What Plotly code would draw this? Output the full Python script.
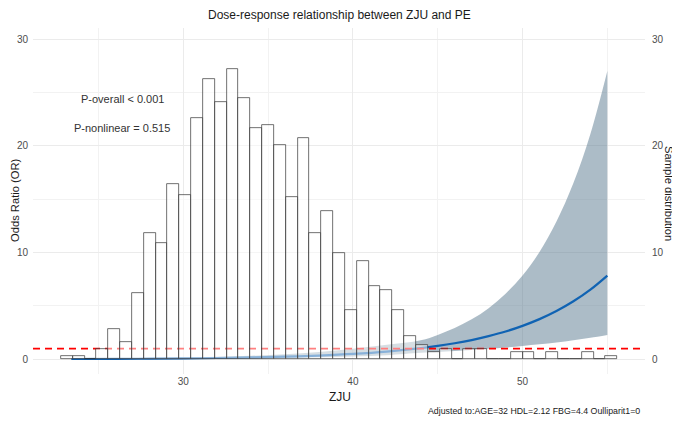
import plotly.graph_objects as go

# ---------------- data ----------------
# histogram of ZJU (bar heights on the "Sample distribution" axis)
bin_start = 22.78
bin_width = 0.698
hist_heights = [0.32, 0.32, 0.0, 0.97, 2.84, 1.59, 6.19, 11.8, 10.87, 16.43,
                15.43, 22.59, 26.27, 24.1, 27.2, 24.46, 21.65, 21.96, 20.11, 15.21,
                20.74, 11.81, 13.93, 9.96, 4.65, 9.24, 6.84, 6.52, 4.65, 2.2,
                1.3, 0.65, 0.97, 0.0, 0.97, 0.97, 0.0, 0.0, 0.65, 0.65,
                0.0, 0.65, 0.0, 0.0, 0.65, 0.0, 0.32]

# dose-response curve (OR and 95% CI)
zju = [23.4, 26, 28, 30, 32, 34, 36, 38, 40, 42, 44, 45, 46, 47, 48, 49,
       50, 51, 52, 53, 54, 55]
or_est = [0.024, 0.04, 0.056, 0.08, 0.12, 0.17, 0.24, 0.35, 0.5, 0.72,
          1.04, 1.25, 1.5, 1.8, 2.17, 2.6, 3.13, 3.76, 4.52, 5.43, 6.52, 7.84]
or_upper = [0.06, 0.085, 0.115, 0.16, 0.23, 0.33, 0.47, 0.68, 0.98, 1.35,
            1.77, 2.28, 2.92, 3.74, 4.79, 6.14, 7.85, 10.05, 12.9, 16.5, 21.1, 27.0]
or_lower = [0.01, 0.019, 0.027, 0.04, 0.063, 0.088, 0.123, 0.18, 0.255, 0.384,
            0.61, 0.685, 0.77, 0.87, 0.98, 1.1, 1.25, 1.41, 1.58, 1.79, 2.01, 2.28]

ref_or = 1
y_ticks = [0, 10, 20, 30]
x_ticks = [30, 40, 50]
p_overall = "P-overall < 0.001"
p_nonlinear = "P-nonlinear = 0.515"
title = "Dose-response relationship between ZJU and PE"
caption = "Adjusted to:AGE=32 HDL=2.12 FBG=4.4 Oulliparit1=0"

# ---------------- layout constants ----------------
x_range = [21.14, 57.22]
y_range = [-1.38, 31.03]
FONT = "Liberation Sans, Arial, sans-serif"
GRID = "#ebebeb"

bin_centers = [bin_start + bin_width * (i + 0.5) for i in range(len(hist_heights))]

fig = go.Figure()

# CI ribbon
fig.add_trace(go.Scatter(x=zju, y=or_lower, mode="lines",
                         line=dict(width=0, shape="spline"),
                         hoverinfo="skip", showlegend=False))
fig.add_trace(go.Scatter(x=zju, y=or_upper, mode="lines",
                         line=dict(width=0, shape="spline"),
                         fill="tonexty", fillcolor="rgba(96,127,148,0.52)",
                         hoverinfo="skip", showlegend=False))
# OR curve
fig.add_trace(go.Scatter(x=zju, y=or_est, mode="lines",
                         line=dict(color="#1063b3", width=2.2, shape="spline"),
                         showlegend=False))
# reference line OR = 1
fig.add_trace(go.Scatter(x=x_range, y=[ref_or, ref_or], mode="lines",
                         line=dict(color="#ff0000", width=1.6, dash="7px,5px"),
                         showlegend=False))
# histogram (on secondary axis so it sits on top)
fig.add_trace(go.Bar(x=bin_centers, y=hist_heights, width=bin_width,
                     marker=dict(color="rgba(255,255,255,0.5)",
                                 line=dict(color="#333333", width=0.7)),
                     yaxis="y2", showlegend=False))

# page body has an 8px margin, so the figure is drawn 8px in from the corner
OFF = 8
W, H = 680 - OFF, 422 - OFF
L, T = 33 - OFF, 28 - OFF
R = W - (645 - OFF)
B = H - (374 - OFF)
pw, ph = W - L - R, H - T - B


def px(xp):
    return (xp - OFF - L) / pw


def py(yp):
    return (H - B - (yp - OFF)) / ph


TXT = "#1a1a1a"
C = dict(xanchor="center", yanchor="middle", showarrow=False)
annotations = [
    dict(text=title, x=0.5, y=py(15), xref="paper", yref="paper",
         font=dict(size=12, color=TXT), **C),
    dict(text="Odds Ratio (OR)", x=px(15), y=py(200), xref="paper", yref="paper",
         textangle=-90, font=dict(size=11.2, color=TXT), **C),
    dict(text="Sample distribution", x=px(669), y=py(193), xref="paper", yref="paper",
         textangle=90, font=dict(size=11.2, color=TXT), **C),
    dict(text="ZJU", x=px(340), y=py(397), xref="paper", yref="paper",
         font=dict(size=12, color=TXT), **C),
    dict(text=caption, x=px(642), y=py(411), xref="paper", yref="paper",
         xanchor="right", yanchor="middle", showarrow=False,
         font=dict(size=8.8, color=TXT)),
    dict(text=p_overall, x=26.39, y=24.38, xref="x", yref="y",
         font=dict(size=11, color="#333333"), **C),
    dict(text=p_nonlinear, x=26.39, y=21.66, xref="x", yref="y",
         font=dict(size=11, color="#333333"), **C),
]

axis_common = dict(showline=False, zeroline=False, ticks="", automargin=False,
                   tickfont=dict(size=10, color="#4d4d4d"))

fig.update_layout(
    width=W, height=H,
    margin=dict(l=L, r=R, t=T, b=B, pad=0),
    template="none",
    paper_bgcolor="white", plot_bgcolor="white",
    font=dict(family=FONT),
    bargap=0,
    showlegend=False,
    annotations=annotations,
    xaxis=dict(range=x_range, tickvals=x_ticks, showgrid=True, gridcolor=GRID,
               gridwidth=1,
               minor=dict(dtick=5, tick0=25, showgrid=True, gridcolor="#f2f2f2",
                          gridwidth=0.7),
               **axis_common),
    yaxis=dict(range=y_range, tickvals=y_ticks, showgrid=True, gridcolor=GRID,
               gridwidth=1, ticklabelstandoff=4,
               minor=dict(dtick=5, tick0=5, showgrid=True, gridcolor="#f2f2f2",
                          gridwidth=0.7),
               **axis_common),
    yaxis2=dict(range=y_range, tickvals=y_ticks, overlaying="y", side="right",
                showgrid=False, ticklabelstandoff=6, **axis_common),
)

fig.write_html("out.html")
